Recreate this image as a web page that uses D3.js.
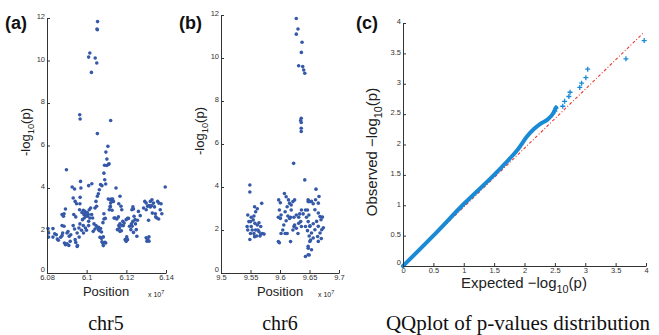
<!DOCTYPE html>
<html>
<head>
<meta charset="utf-8">
<script src="https://cdn.jsdelivr.net/npm/d3@7"></script>
<style>
  body { margin: 0; background: #fff; }
  svg { display: block; }
  .tick text { font-family: "Liberation Sans", Arial, sans-serif; font-size: 7.5px; fill: #333; }
  .axis path, .axis line { stroke: #333; stroke-width: 1; }
</style>
</head>
<body>
<script>
// panel (a) chr5 : position (x 10^7), -log10(p)
const chr5Pos = [
  6.1055, 6.1052, 6.1054, 6.1016, 6.1010, 6.1043, 6.1051, 6.1024, 6.0965, 6.0967, 6.1121, 6.1054,
  6.1107, 6.1097, 6.1102, 6.1090, 6.1101, 6.1110, 6.1113, 6.1087, 6.0898,
  6.0805, 6.0830, 6.0808, 6.0839, 6.0808, 6.0830, 6.0847, 6.0852, 6.0857, 6.0869, 6.0876, 6.0879,
  6.0876, 6.0886, 6.0876, 6.0883, 6.0886, 6.0893, 6.0888, 6.0893, 6.0901, 6.0910, 6.0917, 6.0912,
  6.0920, 6.0901, 6.0906, 6.0927, 6.0939, 6.0932, 6.0942, 6.0949, 6.0935, 6.0945, 6.0932, 6.0939,
  6.0942, 6.0945, 6.0952, 6.0952, 6.0961, 6.0966, 6.0962, 6.0954, 6.0969, 6.0971, 6.0967, 6.0966,
  6.0964, 6.0976, 6.0983, 6.0986, 6.0993, 6.0996, 6.0988, 6.0979, 6.0999, 6.1004, 6.1008, 6.0991,
  6.1003, 6.1010, 6.0983, 6.0994, 6.0974, 6.0984, 6.0999, 6.1010, 6.1010, 6.1026, 6.1013, 6.1020,
  6.1025, 6.1016, 6.1030, 6.1037, 6.1033, 6.1042, 6.1047, 6.1054, 6.1060, 6.1042, 6.1050, 6.1047,
  6.1054, 6.1059, 6.1064, 6.1070, 6.1077, 6.1060, 6.1064, 6.1070, 6.1075, 6.1082, 6.1067, 6.1075,
  6.1084, 6.1081, 6.1092, 6.1087, 6.1094, 6.1087, 6.1072, 6.1077, 6.1084, 6.1096, 6.1096, 6.1091,
  6.1109, 6.1118, 6.1128, 6.1124, 6.1119, 6.1128, 6.1114, 6.1119, 6.1135, 6.1131, 6.1121, 6.1148,
  6.1168, 6.1162, 6.1173, 6.1143, 6.1152, 6.1160, 6.1138, 6.1177, 6.1182, 6.1168, 6.1165, 6.1177,
  6.1175, 6.1185, 6.1189, 6.1199, 6.1206, 6.1155, 6.1162, 6.1168, 6.1194, 6.1199, 6.1206, 6.1202,
  6.1211, 6.1216, 6.1228, 6.1233, 6.1236, 6.1239, 6.1244, 6.1233, 6.1229, 6.1223, 6.1236, 6.1226,
  6.1246, 6.1250, 6.1253, 6.1256, 6.1270, 6.1261, 6.1287, 6.1300, 6.1300, 6.1304, 6.1307, 6.1314,
  6.1314, 6.1293, 6.1300, 6.1307, 6.1314, 6.1321, 6.1327, 6.1321, 6.1329, 6.1337, 6.1342, 6.1346,
  6.1348, 6.1354, 6.1363, 6.1312, 6.1331, 6.1358, 6.1364, 6.1371, 6.1375, 6.1379, 6.1396
];
const chr5Val = [
  11.83, 11.48, 11.45, 10.35, 10.16, 10.12, 9.88, 9.44, 7.45, 7.25, 7.18, 6.56,
  5.96, 5.69, 5.36, 5.07, 5.06, 5.11, 5.14, 4.70, 4.86,
  2.09, 2.09, 1.88, 1.85, 1.69, 1.69, 1.80, 1.60, 1.54, 1.68, 1.76, 1.88,
  2.23, 2.20, 2.75, 2.67, 2.79, 3.01, 1.41, 1.33, 1.38, 1.30, 1.49, 1.73,
  1.80, 1.88, 1.95, 4.05, 3.95, 3.53, 3.37, 3.26, 2.75, 2.64, 2.23, 2.07,
  1.57, 1.44, 1.25, 1.88, 2.12, 2.31, 1.69, 1.29, 4.31, 4.00, 3.56, 3.26,
  2.98, 2.85, 2.95, 2.75, 2.82, 2.67, 2.59, 2.51, 2.75, 2.67, 2.75, 2.90,
  2.85, 2.43, 2.23, 2.12, 2.01, 1.88, 2.01, 2.23, 4.11, 4.20, 2.98, 3.06,
  2.75, 2.59, 2.59, 2.31, 1.96, 2.07, 2.23, 2.15, 2.04, 3.06, 3.14, 3.37,
  3.61, 3.73, 3.92, 4.16, 4.11, 2.15, 1.99, 2.09, 1.93, 2.37, 1.68, 1.63,
  1.70, 1.41, 1.44, 2.54, 2.57, 2.79, 1.66, 1.47, 1.29, 1.41, 4.19, 4.39,
  3.48, 3.45, 3.37, 3.48, 3.11, 2.95, 2.98, 3.14, 3.37, 3.48, 3.29, 4.00,
  3.61, 3.26, 3.14, 2.59, 2.54, 2.64, 2.59, 2.98, 2.43, 2.32, 2.12, 2.23,
  1.99, 2.23, 2.35, 2.51, 2.57, 2.04, 2.23, 1.96, 1.57, 1.49, 1.57, 1.70,
  2.57, 2.20, 2.98, 3.11, 3.01, 2.67, 2.51, 2.43, 2.20, 2.04, 1.91, 2.32,
  2.31, 2.04, 1.73, 2.48, 2.70, 2.90, 3.06, 2.98, 1.66, 1.50, 1.58, 1.70,
  1.50, 3.37, 3.29, 3.14, 3.17, 3.11, 3.17, 3.37, 3.45, 3.29, 3.11, 2.79,
  2.64, 2.59, 2.54, 2.48, 2.82, 3.37, 3.29, 2.98, 3.26, 2.79, 4.05
];

// panel (b) chr6
const chr6Pos = [
  9.6276, 9.6305, 9.6276, 9.6374, 9.6362, 9.6316, 9.6385, 9.6402, 9.6420, 9.6360, 9.6350, 9.6360,
  9.6360, 9.6360, 9.6231, 9.6420, 9.5489, 9.5489, 9.6610,
  9.5690, 9.5569, 9.5615, 9.5587, 9.5558, 9.5512, 9.5454, 9.5472, 9.5500, 9.5546, 9.5575, 9.5615,
  9.5644, 9.5673, 9.5702, 9.5644, 9.5587, 9.5529, 9.5500, 9.5558, 9.5604, 9.5661, 9.5489, 9.5569,
  9.5627, 9.5673, 9.5730, 9.5512, 9.5443, 9.5454,
  9.5978, 9.6006, 9.5989, 9.6018, 9.5972, 9.6006, 9.6075, 9.6104, 9.6144, 9.6162, 9.6190, 9.6219,
  9.6248, 9.6121, 9.6190, 9.6087, 9.6133, 9.6179, 9.6236, 9.6277, 9.6162, 9.6104, 9.6064, 9.6047,
  9.6018, 9.6087, 9.6121, 9.5972, 9.5989, 9.6179, 9.6236, 9.6277, 9.6305, 9.6219, 9.6248, 9.6317,
  9.6351, 9.6363, 9.6317, 9.6334, 9.6363, 9.6392, 9.6432, 9.6478, 9.6507, 9.6466, 9.6489, 9.6449,
  9.6478, 9.6507, 9.6432, 9.6466, 9.6495, 9.6518, 9.6478, 9.6495,
  9.6477, 9.6534, 9.6563, 9.6592, 9.6649, 9.6678, 9.6621, 9.6563, 9.6506, 9.6649, 9.6592, 9.6534,
  9.6678, 9.6638, 9.6563, 9.6506, 9.6477, 9.6534, 9.6477, 9.6431, 9.6649, 9.6707, 9.6695, 9.6649,
  9.6603, 9.6661, 9.6720, 9.6735, 9.6700
];
const chr6Val = [
  11.84, 11.35, 11.11, 10.73, 10.26, 9.64, 9.60, 9.44, 9.29, 7.20, 7.09, 7.00,
  6.73, 6.58, 5.10, 4.33, 4.09, 3.77, 3.90,
  3.24, 3.08, 2.99, 2.85, 2.65, 2.59, 2.70, 2.39, 2.39, 2.47, 2.31, 2.23,
  2.34, 2.16, 1.84, 1.92, 2.00, 2.00, 1.84, 1.84, 1.72, 1.72, 1.56, 1.69,
  2.00, 1.81, 1.81, 2.16, 2.16, 2.00,
  3.40, 3.27, 2.93, 2.70, 2.59, 2.54, 3.70, 3.55, 3.40, 3.24, 3.16, 3.32,
  3.40, 3.08, 2.93, 2.85, 2.65, 2.59, 2.59, 2.70, 2.54, 2.43, 2.23, 2.00,
  1.84, 1.84, 1.84, 1.46, 1.41, 1.46, 2.16, 2.08, 1.84, 2.00, 2.23, 2.31,
  2.39, 2.16, 2.59, 2.75, 2.93, 2.75, 2.93, 3.32, 3.32, 2.93, 2.70, 2.59,
  2.39, 2.19, 2.16, 1.97, 1.72, 1.53, 1.15, 0.84,
  3.41, 3.33, 3.22, 2.94, 2.79, 2.63, 2.40, 2.29, 2.17, 2.17, 2.01, 1.86,
  1.86, 1.70, 1.63, 1.47, 1.24, 1.08, 0.85, 0.77, 1.47, 2.01, 2.48, 3.25,
  3.41, 3.56, 2.60, 2.10, 1.60
];

// panel (c) QQ plot : dense band and sparse tail
const qqBandX = [0, 0.5, 1.0, 1.5, 1.75, 1.9, 2.04, 2.15, 2.26, 2.39, 2.47, 2.52];
const qqBandY = [0, 0.5, 1.02, 1.5, 1.76, 1.93, 2.13, 2.25, 2.34, 2.42, 2.51, 2.61];
const qqTailX = [2.50, 2.52, 2.63, 2.66, 2.73, 2.75, 2.91, 2.94, 3.01, 3.04, 3.67, 3.97];
const qqTailY = [2.55, 2.60, 2.63, 2.71, 2.79, 2.86, 2.94, 3.01, 3.10, 3.24, 3.41, 3.71];
const refX = [0, 3.97];
const refY = [0, 3.85];

const ticks5 = [6.08, 6.10, 6.12, 6.14];
const ticks6 = [9.5, 9.55, 9.6, 9.65, 9.7];
const ticksP = [0, 2, 4, 6, 8, 10, 12];
const ticksQ = [0, 0.5, 1, 1.5, 2, 2.5, 3, 3.5, 4];

const W = 659, H = 335;
const svg = d3.select("body").append("svg").attr("width", W).attr("height", H);
const sans = "'Liberation Sans', Arial, Helvetica, sans-serif";
const serif = "'Liberation Serif', 'Times New Roman', serif";
const dotBlue = "#3559a8";
const qqBlue = "#1a8ad4";

function axes(x, y, xt, yt, xfmt, yfmt) {
  svg.append("g").attr("class", "axis")
    .attr("transform", `translate(0,${y.range()[0]})`)
    .call(d3.axisBottom(x).tickValues(xt).tickFormat(xfmt).tickSizeInner(-3).tickSizeOuter(0).tickPadding(1.5));
  svg.append("g").attr("class", "axis")
    .attr("transform", `translate(${x.range()[0]},0)`)
    .call(d3.axisLeft(y).tickValues(yt).tickFormat(yfmt).tickSizeInner(-3).tickSizeOuter(0).tickPadding(2))
    .selectAll(".tick text").attr("dy", d => d === 0 ? "-0.2em" : "0.1em");
}

function label(txt, x, y, opts) {
  const t = svg.append("text").attr("x", x).attr("y", y)
    .attr("font-family", opts.family || sans).attr("font-size", opts.size)
    .attr("text-anchor", opts.anchor || "middle").attr("fill", opts.fill || "#222");
  if (opts.bold) t.attr("font-weight", "bold");
  return t.text(txt);
}

function logLabel(prefix, x, y, size, rotate) {
  const t = svg.append("text").attr("x", x).attr("y", y)
    .attr("font-family", sans).attr("font-size", size).attr("text-anchor", "middle").attr("fill", "#222");
  if (rotate) t.attr("transform", `rotate(-90,${x},${y})`);
  t.append("tspan").text(prefix + "log");
  t.append("tspan").attr("font-size", size * 0.72).attr("dy", size * 0.32).text("10");
  t.append("tspan").attr("dy", -size * 0.32).text("(p)");
}

function manhattan(pos, val, x, y) {
  svg.append("g").selectAll("circle").data(d3.zip(pos, val)).join("circle")
    .attr("cx", d => x(d[0])).attr("cy", d => y(d[1])).attr("r", 1.8).attr("fill", dotBlue);
}

// (a)
const xa = d3.scaleLinear().domain([6.08, 6.14]).range([47, 166]);
const ya = d3.scaleLinear().domain([0, 12]).range([273, 18]);
manhattan(chr5Pos, chr5Val, xa, ya);
axes(xa, ya, ticks5, ticksP, d3.format(".3~f"), d3.format("d"));
logLabel("-", 30, 132, 13, true);
label("Position", 106, 296, { size: 13 });
const e5 = label("x 10", 148, 297, { size: 7, anchor: "start" });
e5.append("tspan").attr("dy", -3).attr("font-size", 5.5).text("7");
label("(a)", 5, 29, { size: 18, bold: true, anchor: "start", fill: "#111" });
label("chr5", 106, 330, { size: 20, family: serif, fill: "#111" });

// (b)
const xb = d3.scaleLinear().domain([9.5, 9.7]).range([221, 339]);
const yb = d3.scaleLinear().domain([0, 12]).range([273, 15]);
manhattan(chr6Pos, chr6Val, xb, yb);
axes(xb, yb, ticks6, ticksP, d3.format(".3~f"), d3.format("d"));
logLabel("-", 204, 131, 13, true);
label("Position", 280, 296, { size: 13 });
const e6 = label("x 10", 318, 297, { size: 7, anchor: "start" });
e6.append("tspan").attr("dy", -3).attr("font-size", 5.5).text("7");
label("(b)", 179, 29, { size: 18, bold: true, anchor: "start", fill: "#111" });
label("chr6", 280, 330, { size: 20, family: serif, fill: "#111" });

// (c)
const xc = d3.scaleLinear().domain([0, 4]).range([403, 646]);
const yc = d3.scaleLinear().domain([0, 4]).range([266, 23]);
svg.append("path").datum(d3.zip(refX, refY))
  .attr("d", d3.line().x(d => xc(d[0])).y(d => yc(d[1])))
  .attr("stroke", "#e8382f").attr("stroke-width", 1.1).attr("stroke-dasharray", "3,2,1,2").attr("fill", "none");
svg.append("path").datum(d3.zip(qqBandX, qqBandY))
  .attr("d", d3.line().curve(d3.curveMonotoneX).x(d => xc(d[0])).y(d => yc(d[1])))
  .attr("stroke", qqBlue).attr("stroke-width", 4).attr("stroke-linecap", "round").attr("fill", "none");
svg.append("g").selectAll("path").data(d3.zip(qqTailX, qqTailY)).join("path")
  .attr("d", "M-2.5,0H2.5M0,-2.5V2.5")
  .attr("transform", d => `translate(${xc(d[0])},${yc(d[1])})`)
  .attr("fill", "none").attr("stroke", qqBlue).attr("stroke-width", 1.3);
axes(xc, yc, ticksQ, ticksQ, d3.format("~g"), d3.format("~g"));
logLabel("Observed \u2212", 377, 152, 15, true);
logLabel("Expected \u2212", 524, 288, 15, false);
label("(c)", 356, 29, { size: 18, bold: true, anchor: "start", fill: "#111" });
label("QQplot of p-values distribution", 518, 330, { size: 21, family: serif, fill: "#111" });
</script>
</body>
</html>
